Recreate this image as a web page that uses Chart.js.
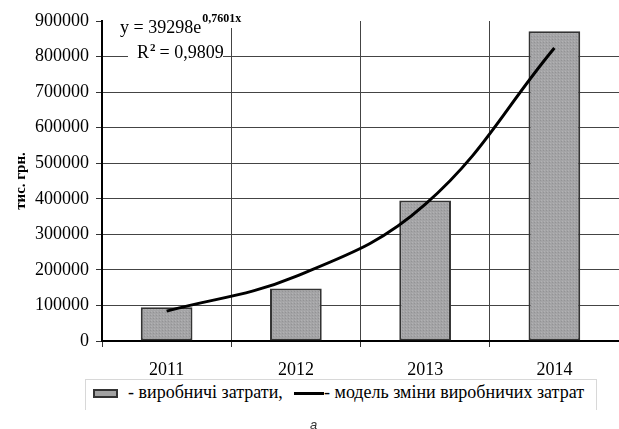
<!DOCTYPE html>
<html>
<head>
<meta charset="utf-8">
<script src="https://cdn.jsdelivr.net/npm/chart.js@4.4.0/dist/chart.umd.min.js"></script>
<style>
    body { margin: 0; background: #fff; }
    #wrap { position: relative; width: 619px; height: 429px; overflow: hidden; }
    #chart { position: absolute; left: 0; top: 0; }
    .legend {
        position: absolute; left: 85px; top: 379px; width: 510px; height: 30px;
        border: 1px solid #d8d8d8; border-bottom: none; background: #fff;
        font: 18px "Liberation Serif", serif; color: #000;
    }
    .legend span { position: absolute; top: 2px; white-space: nowrap; }
    .swatch {
        position: absolute; left: 7px; top: 9px; width: 21px; height: 5px;
        border: 2px solid #333; background: #a2a2a2;
    }
    .lineswatch { position: absolute; left: 208px; top: 12px; width: 30px; height: 3px; background: #000; }
    .caption {
        position: absolute; left: 310px; top: 417px; line-height: 13px;
        font: italic 13px "Liberation Sans", sans-serif; color: #333;
    }
</style>
</head>
<body>
<div id="wrap">
    <canvas id="chart" width="619" height="429"></canvas>
    <div class="legend">
        <div class="swatch"></div>
        <span style="left: 42px;">- виробничі затрати,</span>
        <div class="lineswatch"></div>
        <span style="left: 238px;">- модель зміни виробничих затрат</span>
    </div>
    <div class="caption">а</div>
</div>
<script>
// Data
const years = ['2011', '2012', '2013', '2014'];
const costs = [95000, 148000, 395000, 871000];      // виробничі затрати
const trend = [84000, 182000, 384000, 824000];      // модель (trend line)
const yTicksMax = 900000;
const yStep = 100000;

// dotted grey fill like the original
function makePattern() {
    const c = document.createElement('canvas');
    c.width = 3; c.height = 3;
    const g = c.getContext('2d');
    g.fillStyle = '#a4a4a6';
    g.fillRect(0, 0, 3, 3);
    g.fillStyle = '#939395';
    g.fillRect(0, 0, 1, 1);
    g.fillStyle = '#b2b2b4';
    g.fillRect(1, 2, 1, 1);
    return g.createPattern(c, 'repeat');
}

const serif = '"Liberation Serif", "Times New Roman", serif';

// Trendline equation box (top left of plot)
const equationPlugin = {
    id: 'equation',
    afterDraw(chart) {
        const ctx = chart.ctx;
        const a = chart.chartArea;
        const x0 = a.left, y0 = a.top;
        ctx.save();
        ctx.fillStyle = '#fff';
        ctx.fillRect(x0 + 14, y0 - 9, 126, 16);
        ctx.fillRect(x0 + 26, y0 + 23, 95, 21);
        ctx.fillStyle = '#000';
        ctx.textBaseline = 'alphabetic';
        ctx.font = '18px ' + serif;
        const t1 = 'y = 39298e';
        ctx.fillText(t1, x0 + 18, y0 + 12);
        const w1 = ctx.measureText(t1).width;
        ctx.font = 'bold 12px ' + serif;
        ctx.fillText('0,7601x', x0 + 18 + w1 + 1, y0 + 1);
        ctx.font = '18px ' + serif;
        ctx.fillText('R', x0 + 35, y0 + 37);
        const wr = ctx.measureText('R').width;
        ctx.font = 'bold 11px ' + serif;
        ctx.fillText('2', x0 + 35 + wr + 1, y0 + 30);
        ctx.font = '18px ' + serif;
        ctx.fillText(' = 0,9809', x0 + 35 + wr + 6, y0 + 37);
        ctx.restore();
    }
};

new Chart(document.getElementById('chart').getContext('2d'), {
    data: {
        labels: years,
        datasets: [
            {
                type: 'line',
                label: 'модель зміни виробничих затрат',
                data: trend,
                borderColor: '#000',
                borderWidth: 3,
                pointRadius: 0,
                tension: 0.4,
                fill: false,
                order: 0
            },
            {
                type: 'bar',
                label: 'виробничі затрати',
                data: costs,
                backgroundColor: makePattern(),
                borderColor: '#333',
                borderWidth: 2,
                borderSkipped: false,
                categoryPercentage: 1,
                barPercentage: 0.4,
                order: 1
            }
        ]
    },
    options: {
        responsive: false,
        animation: false,
        layout: { padding: { top: 21, left: 0, right: 0, bottom: 0 } },
        plugins: {
            legend: { display: false },
            tooltip: { enabled: false }
        },
        scales: {
            x: {
                offset: true,
                grid: {
                    offset: true,
                    color: '#444',
                    lineWidth: 1,
                    tickLength: 6,
                    tickColor: '#333'
                },
                border: { color: '#000', width: 2 },
                ticks: {
                    color: '#000',
                    padding: 12,
                    font: { family: serif, size: 18 }
                },
                afterFit: s => { s.height = 88; }
            },
            y: {
                min: 0,
                max: yTicksMax,
                ticks: {
                    stepSize: yStep,
                    color: '#000',
                    padding: 7,
                    font: { family: serif, size: 18 },
                    callback: v => String(v)
                },
                grid: {
                    color: c => (c.tick && c.tick.value === yTicksMax) ? 'rgba(0,0,0,0)' : '#444',
                    tickColor: '#333',
                    lineWidth: 1,
                    tickLength: 6
                },
                border: { color: '#000', width: 2 },
                title: {
                    display: true,
                    text: 'тис. грн.',
                    color: '#000',
                    font: { family: serif, size: 15, weight: 'bold' },
                    padding: { top: 12, bottom: 0 }
                },
                afterFit: s => { s.width = 102; }
            }
        }
    },
    plugins: [equationPlugin]
});
</script>
</body>
</html>
